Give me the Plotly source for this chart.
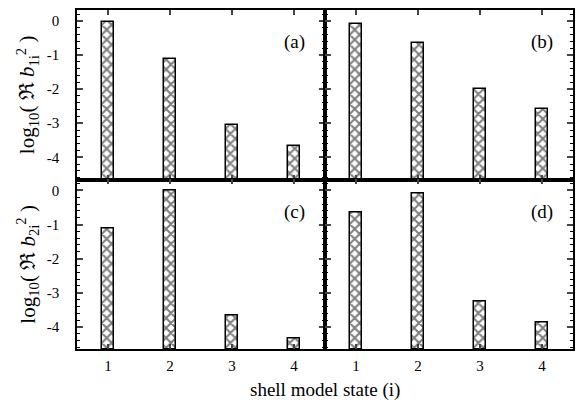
import plotly.graph_objects as go

states = [1, 2, 3, 4]
vals_a = [-0.02, -1.13, -3.04, -3.68]
vals_b = [-0.09, -0.66, -2.01, -2.58]
vals_c = [-1.13, 0.0, -3.68, -4.35]
vals_d = [-0.66, -0.09, -3.27, -3.87]
panel_labels = ["(a)", "(b)", "(c)", "(d)"]
y_ticks = [0, -1, -2, -3, -4]
y_ticklabels = ["0", "-1", "-2", "-3", "-4"]

YMIN, YMAX = -4.65, 0.32
FONT = "Liberation Serif"

fig = go.Figure()
panels = [
    (vals_a, "x", "y"),
    (vals_b, "x2", "y2"),
    (vals_c, "x3", "y3"),
    (vals_d, "x4", "y4"),
]
for vals, xa, ya in panels:
    fig.add_trace(go.Bar(
        x=states, y=[v - YMIN for v in vals], base=YMIN,
        xaxis=xa, yaxis=ya, width=0.2,
        marker=dict(color="white", line=dict(color="black", width=1.5),
                    pattern=dict(shape="x", size=7, solidity=0.5,
                                 fgcolor="black", bgcolor="white")),
        showlegend=False,
    ))

doms_x = {"": [0, 0.5], "2": [0.5, 1], "3": [0, 0.5], "4": [0.5, 1]}
doms_y = {"": [0.5, 1], "2": [0.5, 1], "3": [0, 0.5], "4": [0, 0.5]}
layout = {}
for k in ["", "2", "3", "4"]:
    bottom = k in ("3", "4")
    left = k in ("", "3")
    layout["xaxis" + k] = dict(
        domain=doms_x[k], anchor="y" + k, range=[0.5, 4.5],
        tickvals=states, ticktext=[str(s) for s in states],
        showticklabels=bottom, ticks="inside", ticklen=5, tickwidth=1.5,
        showline=True, mirror="ticks", linewidth=1.6, linecolor="black",
        showgrid=False, zeroline=False, fixedrange=True,
        tickfont=dict(family=FONT, size=15, color="black"),
        ticklabelstandoff=2,
    )
    layout["yaxis" + k] = dict(
        domain=doms_y[k], anchor="x" + k, range=[YMIN, YMAX],
        tickvals=y_ticks, ticktext=y_ticklabels,
        showticklabels=left, ticks="inside", ticklen=6, tickwidth=1.5,
        minor=dict(ticks="inside", dtick=0.2, ticklen=3, tickwidth=1,
                   tick0=0, tickcolor="black"),
        showline=True, mirror="ticks", linewidth=1.6, linecolor="black",
        showgrid=False, zeroline=False, fixedrange=True,
        tickfont=dict(family=FONT, size=15, color="black"),
        ticklabelstandoff=13,
    )

annotations = []
pos = [("x", "y"), ("x2", "y2"), ("x3", "y3"), ("x4", "y4")]
for lab, (xa, ya) in zip(panel_labels, pos):
    annotations.append(dict(x=4.0, y=-0.62, xref=xa, yref=ya, text=lab,
                            showarrow=False,
                            font=dict(family=FONT, size=19, color="black")))
annotations.append(dict(x=0.5, y=-0.16, xref="paper", yref="paper",
                        text="shell model state (i)", showarrow=False,
                        font=dict(family=FONT, size=19, color="black")))
for yy, idx in [(0.75, "1i"), (0.25, "2i")]:
    annotations.append(dict(
        x=-0.1, y=yy, xref="paper", yref="paper",
        xanchor="center", yanchor="middle",
        text="log<sub>10</sub>( \u211c <i>b</i><sub>" + idx + "</sub><sup>2</sup> )",
        textangle=-90, showarrow=False,
        font=dict(family=FONT, size=21, color="black")))

fig.update_layout(
    width=576, height=405,
    margin=dict(l=77, r=1, t=10, b=56),
    paper_bgcolor="white", plot_bgcolor="white",
    annotations=annotations, bargap=0,
    **layout,
)
fig.write_html("out.html")
